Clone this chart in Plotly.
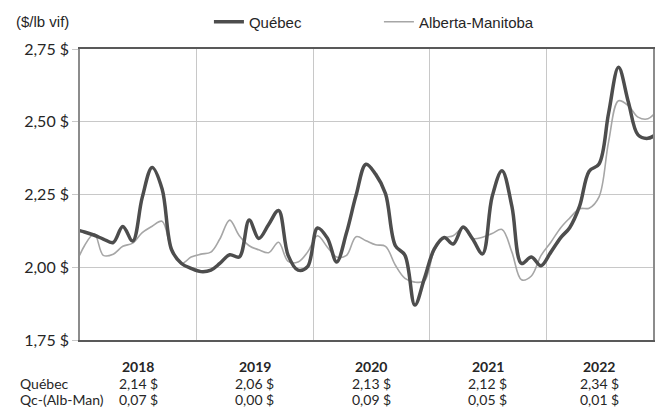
import pandas as pd
import plotly.graph_objects as go

# Monthly prices ($/lb live weight), Dec 2017 to Dec 2022 (first and last are cut by the axis range)
months = pd.date_range("2017-12-01", "2022-12-01", freq="MS") + pd.Timedelta(days=14)

quebec = [
    2.13,
    2.121, 2.110, 2.097, 2.085, 2.140, 2.090, 2.240, 2.343, 2.270, 2.060, 2.013, 1.996,  # 2018
    1.985, 1.990, 2.013, 2.043, 2.035, 2.162, 2.099, 2.147, 2.195, 2.041, 1.990, 2.002,  # 2019
    2.135, 2.100, 2.018, 2.119, 2.248, 2.354, 2.320, 2.253, 2.074, 2.041, 1.870, 1.962,  # 2020
    2.063, 2.102, 2.080, 2.138, 2.097, 2.046, 2.242, 2.332, 2.209, 2.013, 2.035, 2.005,  # 2021
    2.052, 2.102, 2.136, 2.210, 2.330, 2.355, 2.530, 2.687, 2.567, 2.455, 2.443, 2.460,  # 2022
]
alberta_manitoba = [
    2.00,
    2.074, 2.115, 2.041, 2.045, 2.072, 2.083, 2.119, 2.141, 2.158, 2.060, 2.013, 2.035,  # 2018
    2.045, 2.052, 2.097, 2.162, 2.108, 2.074, 2.060, 2.050, 2.086, 2.020, 2.018, 2.052,  # 2019
    2.108, 2.069, 2.035, 2.041, 2.105, 2.091, 2.077, 2.072, 2.007, 1.962, 1.949, 1.953,  # 2020
    2.058, 2.100, 2.108, 2.135, 2.099, 2.103, 2.116, 2.130, 2.052, 1.957, 1.970, 2.040,  # 2021
    2.086, 2.136, 2.169, 2.201, 2.203, 2.242, 2.432, 2.572, 2.555, 2.516, 2.510, 2.540,  # 2022
]

# Summary table under the chart
years = ["2018", "2019", "2020", "2021", "2022"]
year_centers = ["2018-07-02", "2019-07-02", "2020-07-02", "2021-07-02", "2022-06-16"]
quebec_avg = [2.14, 2.06, 2.13, 2.12, 2.34]
quebec_gap = [0.07, 0.00, 0.09, 0.05, 0.01]

y_ticks = [1.75, 2.00, 2.25, 2.50, 2.75]


def fr_dollar(v):
    return f"{v:.2f}".replace(".", ",") + " $"


fig = go.Figure()

fig.add_trace(go.Scatter(x=months, y=alberta_manitoba, mode="lines", name="Alberta-Manitoba",
                         line=dict(color="#a6a6a6", width=1.6, shape="spline"), legendrank=2))
fig.add_trace(go.Scatter(x=months, y=quebec, mode="lines", name="Québec",
                         line=dict(color="#4d4d4d", width=3.5, shape="spline"), legendrank=1))

# Table rows
table_font = dict(family="Lato", size=14, color="#262626")
row_y = [-0.09, -0.15, -0.205]
for i, yr in enumerate(years):
    fig.add_annotation(x=year_centers[i], y=row_y[0], xref="x", yref="paper", text=f"<b>{yr}</b>",
                       showarrow=False, font=table_font, xanchor="center", yanchor="middle")
    fig.add_annotation(x=year_centers[i], y=row_y[1], xref="x", yref="paper", text=fr_dollar(quebec_avg[i]),
                       showarrow=False, font=table_font, xanchor="center", yanchor="middle")
    fig.add_annotation(x=year_centers[i], y=row_y[2], xref="x", yref="paper", text=fr_dollar(quebec_gap[i]),
                       showarrow=False, font=table_font, xanchor="center", yanchor="middle")
fig.add_annotation(x=-0.108, y=row_y[1], xref="paper", yref="paper", text="Québec",
                   showarrow=False, font=table_font, xanchor="left", yanchor="middle")
fig.add_annotation(x=-0.108, y=row_y[2], xref="paper", yref="paper", text="Qc-(Alb-Man)",
                   showarrow=False, font=table_font, xanchor="left", yanchor="middle")

# Unit label
fig.add_annotation(x=-0.115, y=1.093, xref="paper", yref="paper", text="($/lb vif)",
                   showarrow=False, font=dict(family="Liberation Sans", size=15, color="#262626"),
                   xanchor="left", yanchor="middle")

fig.update_layout(
    width=660, height=410,
    margin=dict(l=80, r=5, t=42, b=70),
    paper_bgcolor="white", plot_bgcolor="white",
    showlegend=True,
    legend=dict(orientation="h", x=0.225, y=1.093, xanchor="left", yanchor="middle",
                font=dict(family="Liberation Sans", size=15, color="#262626"),
                entrywidth=125, entrywidthmode="pixels", bgcolor="rgba(0,0,0,0)"),
    xaxis=dict(type="date", range=["2018-01-01", "2022-12-01"], tick0="2018-01-01", dtick="M12",
               showticklabels=False, showgrid=True, gridcolor="#c8c8c8", gridwidth=1,
               showline=True, linecolor="#595959", linewidth=1.5, mirror=True, zeroline=False),
    yaxis=dict(range=[1.75, 2.75], tickvals=y_ticks, ticktext=[fr_dollar(v) for v in y_ticks],
               showgrid=True, gridcolor="#c8c8c8", gridwidth=1, zeroline=False,
               ticks="outside", ticklen=6, tickcolor="#c8c8c8",
               tickfont=dict(family="Lato", size=16, color="#262626"),
               showline=True, linecolor="#8c8c8c", linewidth=1.5, mirror=True),
)

# drop the default page margin so the 660x410 figure fills the window
fig.write_html("out.html", config={"displayModeBar": False},
               post_script="document.body.style.margin='0';")
